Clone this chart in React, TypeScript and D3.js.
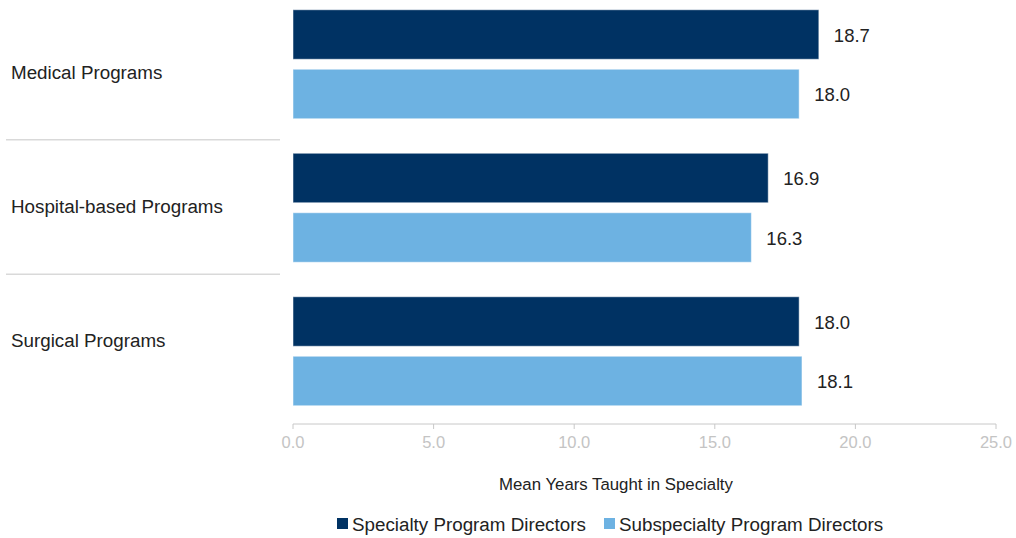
import React from "react";
import * as d3 from "d3";

const categories = ["Medical Programs", "Hospital-based Programs", "Surgical Programs"];
const seriesNames = ["Specialty Program Directors", "Subspecialty Program Directors"];
const specialty = [18.7, 16.9, 18.0];
const subspecialty = [18.0, 16.3, 18.1];
const xTicks = [0, 5, 10, 15, 20, 25];
const colors = ["#003263", "#6db2e2"];

const W = 1016;
const H = 538;
const FONT = "'Liberation Sans', Arial, sans-serif";

export default function App() {
  const x = d3.scaleLinear().domain([0, 25]).range([293, 996]);
  const yGroup = d3.scaleBand<string>().domain(categories).range([-7.5, 423]).padding(0);
  const yInner = d3
    .scaleBand<string>()
    .domain(seriesNames)
    .range([0, yGroup.step()])
    .paddingInner(0.168)
    .paddingOuter(0.29);
  const yLabel = d3.scaleBand<string>().domain(categories).range([5, 408]).padding(0);
  const values = [specialty, subspecialty];
  const axisY = 424;

  return (
    <svg width={W} height={H} style={{ position: "absolute", left: 0, top: 0, background: "#fff" }} fontFamily={FONT}>
      {categories.slice(1).map((c) => (
        <line key={c} x1={6} x2={280} y1={yLabel(c)! + 0.5} y2={yLabel(c)! + 0.5} stroke="#d9d9d9" strokeWidth={1.5} />
      ))}
      {categories.map((c) => (
        <text key={c} x={11} y={yLabel(c)! + yLabel.bandwidth() / 2} dy="0.35em" fontSize={18.8} fill="#222">
          {c}
        </text>
      ))}
      {categories.map((c, ci) =>
        seriesNames.map((s, si) => {
          const v = values[si][ci];
          const y0 = yGroup(c)! + yInner(s)!;
          return (
            <g key={c + s}>
              <rect
                x={x(0)}
                y={y0}
                width={x(v) - x(0)}
                height={yInner.bandwidth()}
                fill={colors[si]}
                stroke="#ffffff"
                strokeOpacity={0.5}
                strokeWidth={1}
              />
              <text x={x(v) + 15} y={y0 + yInner.bandwidth() / 2 + 1} dy="0.35em" fontSize={18.5} fill="#222">
                {v.toFixed(1)}
              </text>
            </g>
          );
        })
      )}
      <line x1={x(0)} x2={x(25)} y1={axisY} y2={axisY} stroke="#c8c8c8" strokeWidth={1} />
      {xTicks.map((t) => (
        <g key={t}>
          <line x1={x(t)} x2={x(t)} y1={axisY} y2={axisY + 5} stroke="#c8c8c8" strokeWidth={1} />
          <text x={x(t)} y={axisY + 18} dy="0.35em" textAnchor="middle" fontSize={16.5} fill="#c4c4c4">
            {t.toFixed(1)}
          </text>
        </g>
      ))}
      <text x={616} y={484} dy="0.35em" textAnchor="middle" fontSize={16.8} fill="#222">
        Mean Years Taught in Specialty
      </text>
      {seriesNames.map((s, i) => {
        const lx = [337, 604][i];
        return (
          <g key={s}>
            <rect x={lx} y={518} width={11} height={11} fill={colors[i]} />
            <text x={lx + 15} y={524} dy="0.35em" fontSize={18.8} fill="#222">
              {s}
            </text>
          </g>
        );
      })}
    </svg>
  );
}
